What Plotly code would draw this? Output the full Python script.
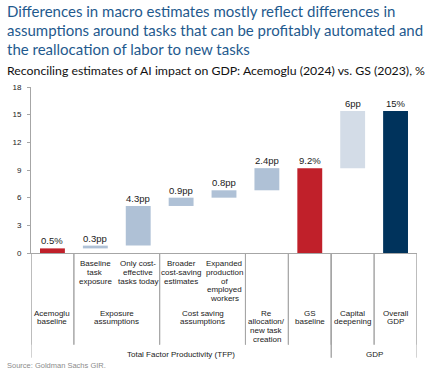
import plotly.graph_objects as go

# ---------------- data ----------------
categories = [
    "Acemoglu baseline", "Baseline task exposure", "Only cost-effective tasks today",
    "Broader cost-saving estimates", "Expanded production of employed workers",
    "Re allocation/new task creation", "GS baseline", "Capital deepening", "Overall GDP",
]
bar_base = [0.0, 0.5, 0.8, 5.1, 6.0, 6.8, 0.0, 9.2, 0.0]
bar_height = [0.5, 0.3, 4.3, 0.9, 0.8, 2.4, 9.2, 6.2, 15.4]
bar_labels = ["0.5%", "0.3pp", "4.3pp", "0.9pp", "0.8pp", "2.4pp", "9.2%", "6pp", "15%"]
y_ticks = [0, 3, 6, 9, 12, 15, 18]

level1_labels = ["", "Baseline<br>task<br>exposure", "Only cost-<br>effective<br>tasks today",
                 "Broader<br>cost-saving<br>estimates",
                 "Expanded<br>production<br>of<br>employed<br>workers", "", "", "", ""]
level2_labels = ["Acemoglu<br>baseline", "Exposure<br>assumptions", "Cost saving<br>assumptions",
                 "Re<br>allocation/<br>new task<br>creation", "GS<br>baseline",
                 "Capital<br>deepening", "Overall<br>GDP"]
level2_spans = [(0, 0), (1, 2), (3, 4), (5, 5), (6, 6), (7, 7), (8, 8)]
level3_labels = ["Total Factor Productivity (TFP)", "GDP"]
level3_spans = [(0, 6), (7, 8)]

title_lines = ["Differences in macro estimates mostly reflect differences in",
               "assumptions around tasks that can be profitably automated and",
               "the reallocation of labor to new tasks"]
subtitle = "Reconciling estimates of AI impact on GDP: Acemoglu (2024) vs. GS (2023), %"
source = "Source: Goldman Sachs GIR."

# ---------------- style ----------------
RED, LIGHT, LIGHTER, NAVY = "#C0202A", "#AFC1D6", "#D3DCE7", "#00335C"
bar_colors = [RED, LIGHT, LIGHT, LIGHT, LIGHT, LIGHT, RED, LIGHTER, NAVY]
AX = "#A6A6A6"
TXT = "#1a1a1a"
ARIAL = "Liberation Sans, Arial, sans-serif"
TITLEF = "Lato, Open Sans, sans-serif"

W, H = 431, 371
L, R, T, B = 29.3, 14.3, 87.3, 117.7
PW, PH = W - L - R, H - T - B


def px(x):
    return (x - L) / PW


def py(y):
    return (H - B - y) / PH


fig = go.Figure()
fig.add_trace(go.Bar(
    x=categories, y=bar_height, base=bar_base, width=0.58,
    marker=dict(color=bar_colors, line=dict(width=0)),
    hoverinfo="skip",
))

ann = []
for i, c in enumerate(categories):
    ann.append(dict(x=c, y=bar_base[i] + bar_height[i], xref="x", yref="y",
                    text=bar_labels[i], showarrow=False, yanchor="bottom",
                    font=dict(family=ARIAL, size=9.5, color=TXT), yshift=0))


def add_lines(label, xc, y0, step):
    for k, line in enumerate(label.split("<br>")):
        if not line:
            continue
        ann.append(dict(x=xc, y=py(y0 + step * k), xref="x", yref="paper", text=line,
                        showarrow=False, xanchor="center", yanchor="middle",
                        font=dict(family=ARIAL, size=8, color=TXT)))


for i, lab in enumerate(level1_labels):
    if lab:
        add_lines(lab, i, 264.0, 8.75)
for lab, (a, b) in zip(level2_labels, level2_spans):
    add_lines(lab, (a + b) / 2, 313.3, 8.9)
for lab, (a, b) in zip(level3_labels, level3_spans):
    add_lines(lab, (a + b) / 2, 354.3, 9)

# title and subtitle
for k, line in enumerate(title_lines):
    ann.append(dict(x=px(3), y=py(11 + 19.2 * k), xref="paper", yref="paper", text=line,
                    showarrow=False, xanchor="left", yanchor="middle",
                    font=dict(family=TITLEF, size=15, color="#1F5A8E")))
ann.append(dict(x=px(3), y=py(70.5), xref="paper", yref="paper", text=subtitle,
                showarrow=False, xanchor="left", yanchor="middle",
                font=dict(family=TITLEF, size=12.3, color="#111111")))
ann.append(dict(x=px(3), y=py(365.5), xref="paper", yref="paper", text=source,
                showarrow=False, xanchor="left", yanchor="middle",
                font=dict(family=ARIAL, size=7.5, color="#8c8c8c")))

# separators in the category table
shapes = []
for lab, (a, b) in zip(level2_labels, level2_spans):
    for edge in (a - 0.5, b + 0.5):
        shapes.append(dict(type="line", xref="x", yref="paper", x0=edge, x1=edge,
                           y0=py(253.3), y1=py(345), line=dict(color=AX, width=1)))
for lab, (a, b) in zip(level3_labels, level3_spans):
    for edge in (a - 0.5, b + 0.5):
        shapes.append(dict(type="line", xref="x", yref="paper", x0=edge, x1=edge,
                           y0=py(253.3), y1=py(358), line=dict(color=AX, width=1)))

fig.update_layout(
    width=W, height=H,
    margin=dict(l=L, r=R, t=T, b=B, pad=0),
    paper_bgcolor="white", plot_bgcolor="white",
    showlegend=False,
    annotations=ann, shapes=shapes,
    bargap=0.42,
)
fig.update_xaxes(type="category", range=[-0.5, 8.5], showticklabels=False, ticks="",
                 showline=True, linecolor=AX, linewidth=1, showgrid=False, zeroline=False,
                 fixedrange=True)
fig.update_yaxes(range=[0, 18], tickvals=y_ticks, ticks="outside", ticklen=3,
                 tickcolor=AX, showline=True, linecolor=AX, linewidth=1, showgrid=False,
                 zeroline=False, tickfont=dict(family=ARIAL, size=8, color=TXT),
                 ticklabelstandoff=4, fixedrange=True)

fig.write_html("out.html", config={"displayModeBar": False},
               post_script="document.body.style.margin='0';")
